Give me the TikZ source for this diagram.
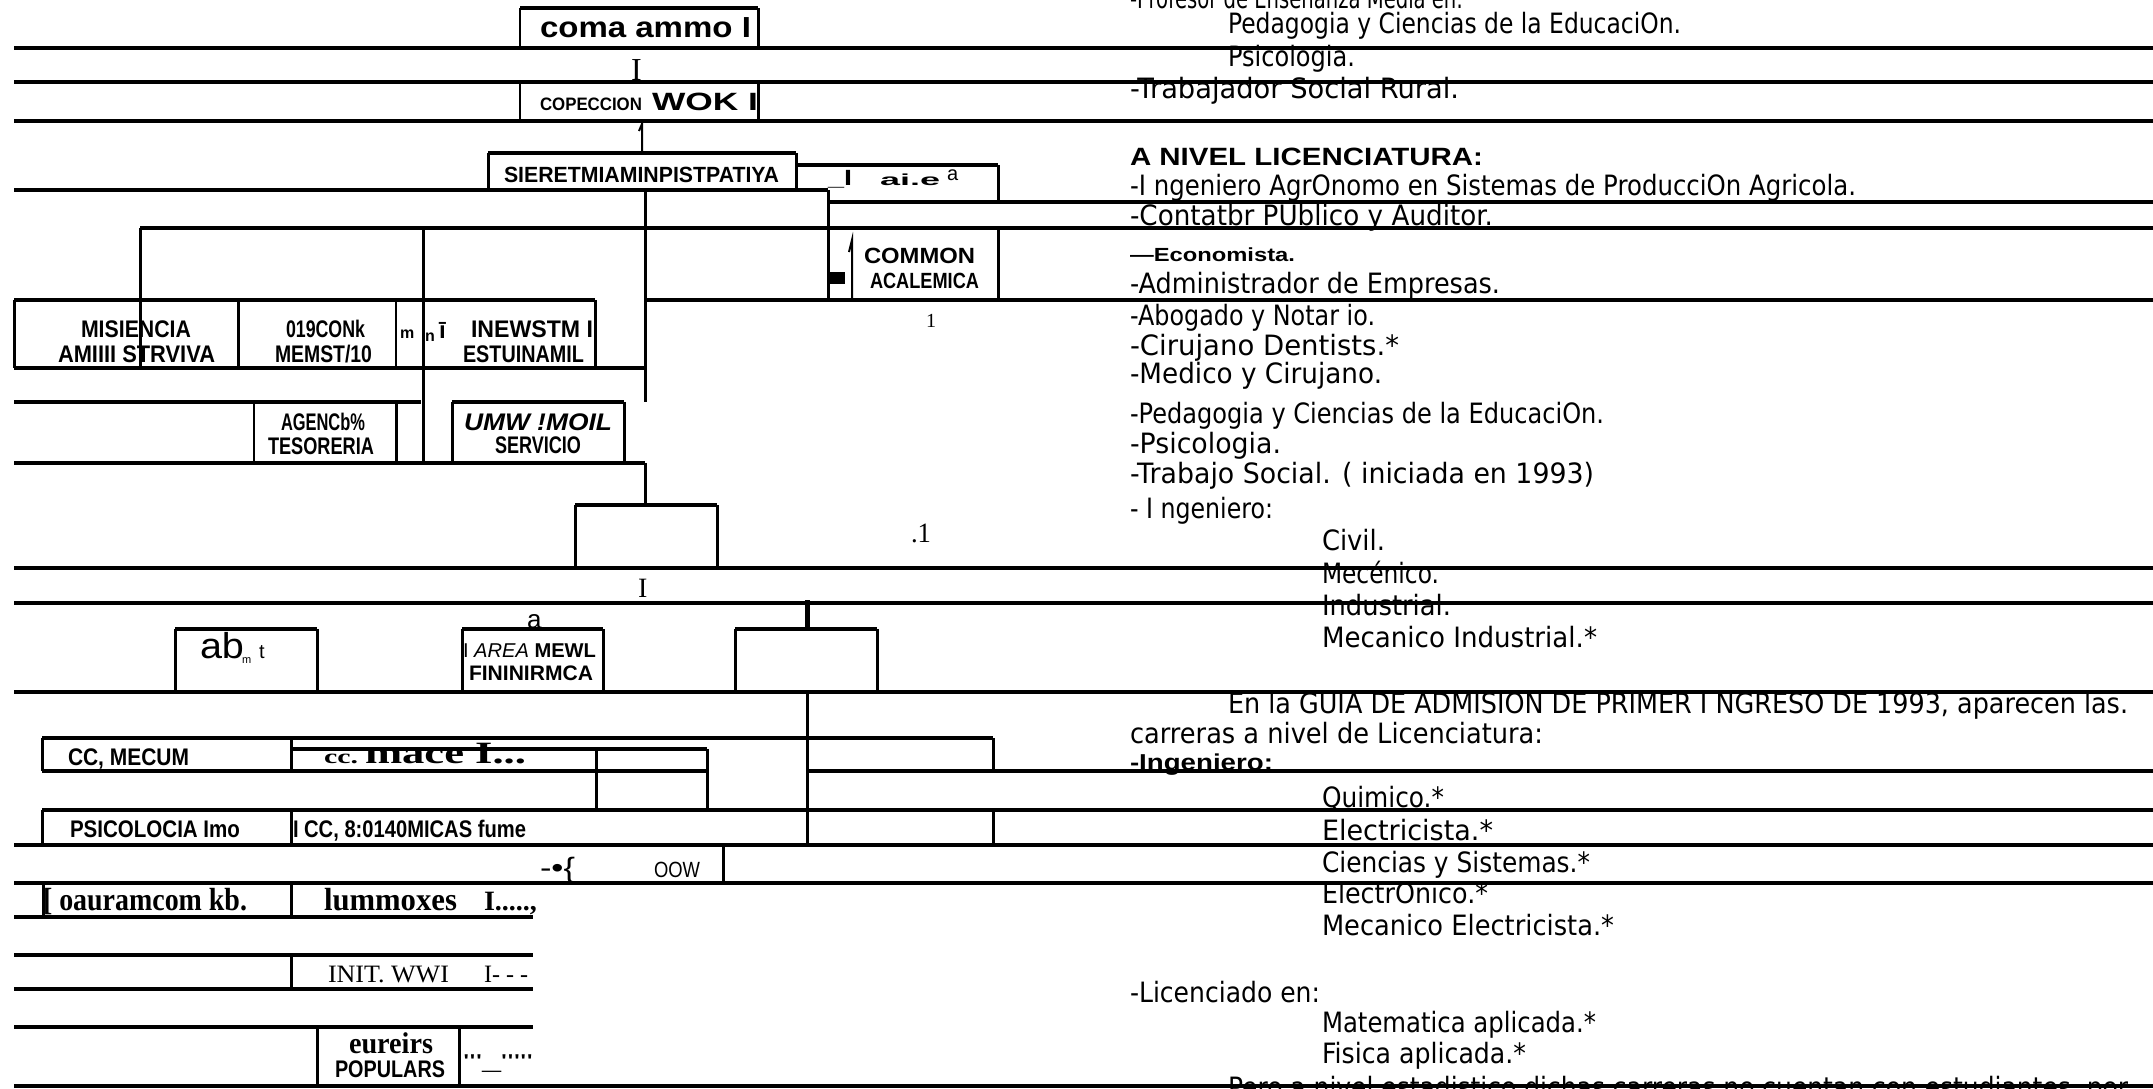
\documentclass[tikz,border=0pt]{standalone}
\usepackage{fontspec}
\usepackage{graphicx}
\setmainfont{Liberation Serif}
\newfontfamily\rtf{DejaVu Sans}
\newfontfamily\lbf{Liberation Sans}
\newfontfamily\srf{Liberation Serif}
\newcommand{\fw}[2]{\resizebox{#1pt}{\height}{#2}}
\newcommand{\fs}[1]{\fontsize{#1}{#1}\selectfont}
\begin{document}
\begin{tikzpicture}[x=1pt,y=-1pt,
  hl/.style={line width=4pt},
  vl/.style={line width=3pt},
  tl/.style={line width=2pt},
  lt/.style={anchor=base west,inner sep=0pt,outer sep=0pt},
  rt/.style={lt,font=\rtf\fs{28}},
  sb/.style={lt,font=\lbf\bfseries},
  sr/.style={lt,font=\srf\bfseries}]
\useasboundingbox (0,0) rectangle (2153,1088);
\clip (0,0) rectangle (2153,1088);
\fill[white] (0,0) rectangle (2153,1088);

% ---------- right column text ----------
\node[rt] (r0) at (1130,8) {\fw{333}{-Profesor de Enseñanza Media en:}};
\node[rt] (r1) at (1228,33) {\fw{453}{Pedagogia y Ciencias de la EducaciOn.}};
\node[rt] (r2) at (1228,66) {\fw{127}{Psicologia.}};
\node[rt] (r3) at (1130,98) {\fw{329}{-Trabajador Social Rural.}};
\node[lt,font=\lbf\bfseries\fs{25}] (r4) at (1130,165) {\fw{353}{A NIVEL LICENCIATURA:}};
\node[rt] (r5) at (1130,195) {\fw{726}{-I ngeniero AgrOnomo en Sistemas de ProducciOn Agricola.}};
\node[rt] (r6) at (1130,225) {\fw{363}{-Contatbr PUblico y Auditor.}};
\node[lt,font=\lbf\bfseries\fs{19}] (r7) at (1130,261) {\fw{165}{—Economista.}};
\node[rt] (r8) at (1130,293) {\fw{370}{-Administrador de Empresas.}};
\node[rt] (r9) at (1130,325) {\fw{245}{-Abogado y Notar io.}};
\node[rt] (r10) at (1130,355) {\fw{269}{-Cirujano Dentists.*}};
\node[rt] (r11) at (1130,383) {\fw{252}{-Medico y Cirujano.}};
\node[rt] (r12) at (1130,423) {\fw{474}{-Pedagogia y Ciencias de la EducaciOn.}};
\node[rt] (r13) at (1130,453) {\fw{151}{-Psicologia.}};
\node[rt] (r14) at (1130,483) {\fw{464}{-Trabajo Social. ( iniciada en 1993)}};
\node[rt] (r15) at (1130,518) {\fw{143}{- I ngeniero:}};
\node[rt] (r16) at (1322,550) {\fw{63}{Civil.}};
\node[rt] (r17) at (1322,583) {\fw{117}{Mecénico.}};
\node[rt] (r18) at (1322,615) {\fw{129}{Industrial.}};
\node[rt] (r19) at (1322,647) {\fw{275}{Mecanico Industrial.*}};
\node[rt] (r20) at (1228,713) {\fw{900}{En la GUIA DE ADMISION DE PRIMER I NGRESO DE 1993, aparecen las.}};
\node[rt] (r21) at (1130,743) {\fw{413}{carreras a nivel de Licenciatura:}};
\node[lt,font=\lbf\bfseries\fs{23}] (r22) at (1130,770) {\fw{143}{-Ingeniero:}};
\node[rt] (r23) at (1322,807) {\fw{122}{Quimico.*}};
\node[rt] (r24) at (1322,840) {\fw{171}{Electricista.*}};
\node[rt] (r25) at (1322,872) {\fw{268}{Ciencias y Sistemas.*}};
\node[rt] (r26) at (1322,903) {\fw{166}{ElectrOnico.*}};
\node[rt] (r27) at (1322,935) {\fw{292}{Mecanico Electricista.*}};
\node[rt] (r28) at (1130,1002) {\fw{190}{-Licenciado en:}};
\node[rt] (r29) at (1322,1032) {\fw{274}{Matematica aplicada.*}};
\node[rt] (r30) at (1322,1063) {\fw{204}{Fisica aplicada.*}};
\node[rt] (r31) at (1228,1097) {\fw{900}{Pero a nivel estadistico dichas carreras no cuentan con estudiantes, por}};

% ---------- left chart labels ----------
\node[sb,font=\lbf\bfseries\fs{29}] (l1) at (540,37) {\fw{211}{coma ammo I}};
\node[sb,font=\lbf\bfseries\fs{18}] (l2a) at (540,110) {\fw{102}{COPECCION}};
\node[sb,font=\lbf\bfseries\fs{25}] (l2b) at (652,110) {\fw{106}{WOK I}};
\node[lt,font=\srf\fs{32}] (i1) at (631,80) {I};
\node[sb,font=\lbf\bfseries\fs{22}] (l3) at (504,182) {\fw{275}{SIERETMIAMINPISTPATIYA}};
\node[sb,font=\lbf\bfseries\fs{22}] (l4a) at (828,185) {\fw{24}{\_I}};
\node[sb,font=\lbf\bfseries\fs{16}] (l4b) at (880,185) {\fw{60}{ai.e}};
\node[lt,font=\lbf\fs{20}] (l4c) at (947,180) {a};
\node[sb,font=\lbf\bfseries\fs{22}] (l5a) at (864,263) {\fw{111}{COMMON}};
\node[sb,font=\lbf\bfseries\fs{22}] (l5b) at (870,288) {\fw{109}{ACALEMICA}};
\node[lt,font=\srf\fs{20}] (one1) at (926,327) {1};
\node[sb,font=\lbf\bfseries\fs{24}] (l6a) at (81,337) {\fw{110}{MISIENCIA}};
\node[sb,font=\lbf\bfseries\fs{24}] (l6b) at (58,362) {\fw{157}{AMIIII STRVIVA}};
\node[sb,font=\lbf\bfseries\fs{24}] (l7a) at (286,337) {\fw{79}{019CONk}};
\node[sb,font=\lbf\bfseries\fs{24}] (l7b) at (275,362) {\fw{97}{MEMST/10}};
\node[sb,font=\lbf\bfseries\fs{16}] (m1) at (400,338) {m};
\node[sb,font=\lbf\bfseries\fs{16}] (m2) at (425,341) {n};
\node[sb,font=\lbf\bfseries\fs{24}] (m3) at (439,338) {ī};
\node[sb,font=\lbf\bfseries\fs{24}] (l8a) at (471,337) {\fw{122}{INEWSTM I}};
\node[sb,font=\lbf\bfseries\fs{24}] (l8b) at (463,362) {\fw{121}{ESTUINAMIL}};
\node[sb,font=\lbf\bfseries\fs{24}] (l9a) at (281,430) {\fw{84}{AGENCb\%}};
\node[sb,font=\lbf\bfseries\fs{24}] (l9b) at (268,454) {\fw{106}{TESORERIA}};
\node[sb,font=\lbf\bfseries\itshape\fs{24}] (l10a) at (464,430) {\fw{148}{UMW !MOIL}};
\node[sb,font=\lbf\bfseries\fs{24}] (l10b) at (495,453) {\fw{86}{SERVICIO}};
\node[lt,font=\srf\fs{28}] (d1) at (911,542) {\fw{20}{.1}};
\node[lt,font=\srf\fs{28}] (i2) at (638,597) {I};
\node[lt,font=\lbf\fs{26}] (a1) at (527,628) {a};
\node[lt,font=\lbf\fs{36}] (ab) at (200,658) {\fw{44}{ab}};
\node[lt,font=\lbf\fs{11}] (abm) at (242,663) {m};
\node[lt,font=\lbf\fs{20}] (abt) at (259,658) {t};
\node[lt,font=\lbf\fs{20}] (l11a) at (463,657) {\fw{133}{I \textit{AREA} \textbf{MEWL}}};
\node[sb,font=\lbf\bfseries\fs{21}] (l11b) at (469,680) {\fw{124}{FININIRMCA}};
\node[sb,font=\lbf\bfseries\fs{24}] (l12) at (68,765) {\fw{121}{CC, MECUM}};
\node[sr,font=\srf\bfseries\fs{20}] (l13a) at (324,763) {\fw{34}{cc.}};
\node[sr,font=\srf\bfseries\fs{31}] (l13b) at (365,763) {\fw{161}{mace I...}};
\node[sb,font=\lbf\bfseries\fs{24}] (l14) at (70,837) {\fw{170}{PSICOLOCIA Imo}};
\node[sb,font=\lbf\bfseries\fs{24}] (l15) at (293,837) {\fw{233}{I CC, 8:0140MICAS fume}};
\node[lt,font=\lbf\fs{28}] (l16) at (540,877) {\fw{35}{-•\{}};
\node[lt,font=\lbf\fs{22}] (l17) at (654,877) {\fw{46}{OOW}};
\node[sr,font=\srf\bfseries\fs{32}] (l18) at (43,910) {\fw{204}{[ oauramcom kb.}};
\node[sr,font=\srf\bfseries\fs{32}] (l19) at (324,910) {\fw{133}{lummoxes}};
\node[sr,font=\srf\bfseries\fs{28}] (l20) at (484,910) {\fw{53}{I.....,}};
\node[lt,font=\srf\fs{25}] (l21) at (328,982) {\fw{121}{INIT. WWI}};
\node[lt,font=\srf\fs{25}] (l22) at (484,982) {\fw{44}{I- - -}};
\node[sr,font=\srf\bfseries\fs{30}] (l23a) at (349,1053) {\fw{84}{eureirs}};
\node[sb,font=\lbf\bfseries\fs{24}] (l23b) at (335,1077) {\fw{110}{POPULARS}};
\node[lt,font=\lbf\fs{20}] (l24) at (463,1068) {\fw{70}{'''\_'''''}};

% ---------- horizontal rules ----------
\foreach \y in {48,82,121,568,603,692,845,883,1086}
  \draw[hl] (14,\y) -- (2153,\y);
\draw[hl] (14,190) -- (828,190);
\draw[hl] (828,202) -- (2153,202);
\draw[hl] (140,228) -- (2153,228);
\draw[hl] (14,300) -- (595,300);
\draw[hl] (645,300) -- (2153,300);
\draw[hl] (14,368) -- (645,368);
\draw[hl] (14,402) -- (421,402);
\draw[hl] (452,402) -- (624,402);
\draw[hl] (14,463) -- (645,463);
\draw[hl] (575,505) -- (717,505);
\draw[hl] (175,629) -- (317,629);
\draw[hl] (462,629) -- (603,629);
\draw[hl] (735,629) -- (877,629);
\draw[hl] (42,738) -- (993,738);
\draw[hl] (291,749) -- (707,749);
\draw[hl] (42,771) -- (707,771);
\draw[hl] (807,771) -- (2153,771);
\draw[hl] (42,810) -- (2153,810);
\foreach \y in {917,955,989,1027}
  \draw[hl] (14,\y) -- (533,\y);
\draw[hl] (520,8) -- (758,8);
\draw[hl] (488,153) -- (796,153);
\draw[hl] (796,165) -- (998,165);

% ---------- vertical rules ----------
\draw[tl] (520,8) -- (520,48);
\draw[vl] (758,8) -- (758,48);
\draw[tl] (520,82) -- (520,121);
\draw[vl] (758,82) -- (758,121);
\draw[tl] (639,131) -- (642,124) -- (642,153);
\draw[vl] (488,153) -- (488,190);
\draw[vl] (796,153) -- (796,190);
\draw[vl] (998,165) -- (998,202);
\draw[vl] (828,190) -- (828,300);
\draw[vl] (645,188) -- (645,402);
\draw[vl] (645,463) -- (645,505);
\draw[vl] (140,228) -- (140,368);
\draw[vl] (423,228) -- (423,463);
\draw[vl] (998,228) -- (998,300);
\draw[tl] (849,252) -- (852,240) -- (852,298);
\fill (830,272) rectangle (845,284);
\draw[vl] (14,300) -- (14,368);
\draw[vl] (238,300) -- (238,368);
\draw[tl] (396,300) -- (396,368);
\draw[vl] (595,300) -- (595,368);
\draw[tl] (254,402) -- (254,463);
\draw[vl] (396,402) -- (396,463);
\draw[vl] (452,402) -- (452,463);
\draw[vl] (624,402) -- (624,463);
\draw[vl] (575,505) -- (575,570);
\draw[vl] (717,505) -- (717,568);
\foreach \x in {175,317,462,603,735,877}
  \draw[vl] (\x,629) -- (\x,692);
\draw[line width=5pt] (807,600) -- (807,627);
\draw[vl] (807,692) -- (807,845);
\draw[vl] (42,738) -- (42,771);
\draw[vl] (291,738) -- (291,771);
\draw[vl] (993,738) -- (993,771);
\draw[vl] (596,749) -- (596,810);
\draw[vl] (707,749) -- (707,810);
\draw[vl] (42,810) -- (42,845);
\draw[vl] (291,810) -- (291,845);
\draw[vl] (993,810) -- (993,845);
\draw[vl] (723,845) -- (723,883);
\draw[vl] (43,883) -- (43,917);
\draw[vl] (291,883) -- (291,917);
\draw[vl] (291,955) -- (291,989);
\draw[vl] (317,1027) -- (317,1088);
\draw[vl] (459,1027) -- (459,1088);
\end{tikzpicture}
\end{document}
